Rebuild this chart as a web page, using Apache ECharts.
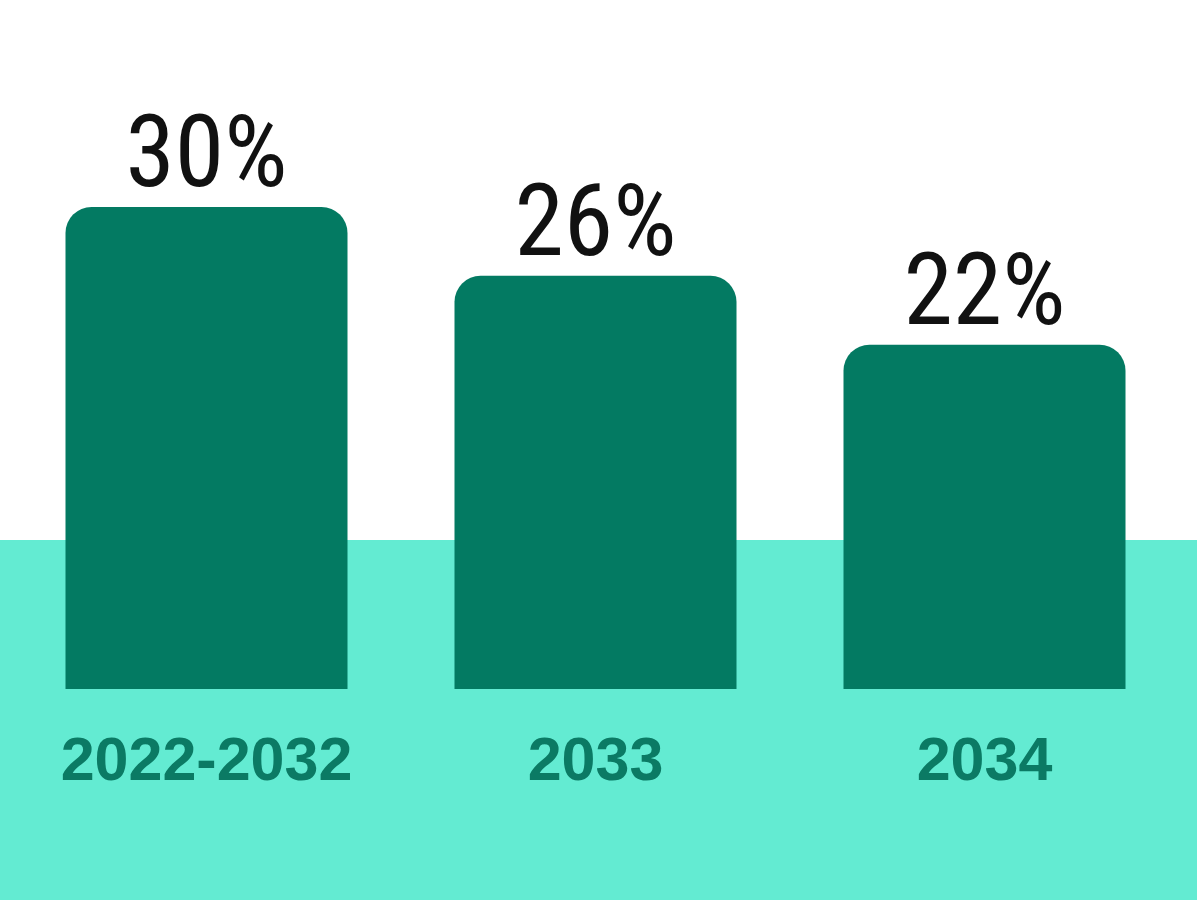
<!DOCTYPE html>
<html>
<head>
<meta charset="utf-8">
<script src="https://cdn.jsdelivr.net/npm/echarts@6/dist/echarts.min.js"></script>
<style>html,body{margin:0;padding:0;background:#fff}#c{width:1197px;height:900px}</style>
</head>
<body>
<div id="c"></div>
<script>
var categories = ['2022-2032', '2033', '2034'];
var values = [30, 26, 22];
var valueLabels = ['30%', '26%', '22%'];

var chart = echarts.init(document.getElementById('c'));
chart.setOption({
  backgroundColor: '#ffffff',
  animation: false,
  graphic: [{
    type: 'rect', z: -10, silent: true,
    shape: { x: 0, y: 540, width: 1197, height: 360 },
    style: { fill: '#63EBD2' }
  }],
  grid: { left: 12, right: 18, top: 207, bottom: 211 },
  xAxis: {
    type: 'category', data: categories,
    axisLine: { show: false }, axisTick: { show: false },
    axisLabel: {
      margin: 44, fontSize: 61, fontWeight: 'bold', lineHeight: 61,
      fontFamily: 'Liberation Sans, Arial, sans-serif', color: '#0B7A64'
    }
  },
  yAxis: { type: 'value', min: 2, max: 30, show: false, splitLine: { show: false } },
  series: [{
    type: 'bar', data: values, barWidth: 282, z: 5,
    itemStyle: { color: '#037A62', borderRadius: [26, 26, 0, 0] },
    label: {
      show: true, position: 'top', distance: -4,
      formatter: function (p) { return valueLabels[p.dataIndex]; },
      fontSize: 100, lineHeight: 100, fontWeight: 'normal',
      fontFamily: 'Roboto Condensed, DejaVu Sans Condensed, sans-serif',
      color: '#111111'
    }
  }]
});
</script>
</body>
</html>
